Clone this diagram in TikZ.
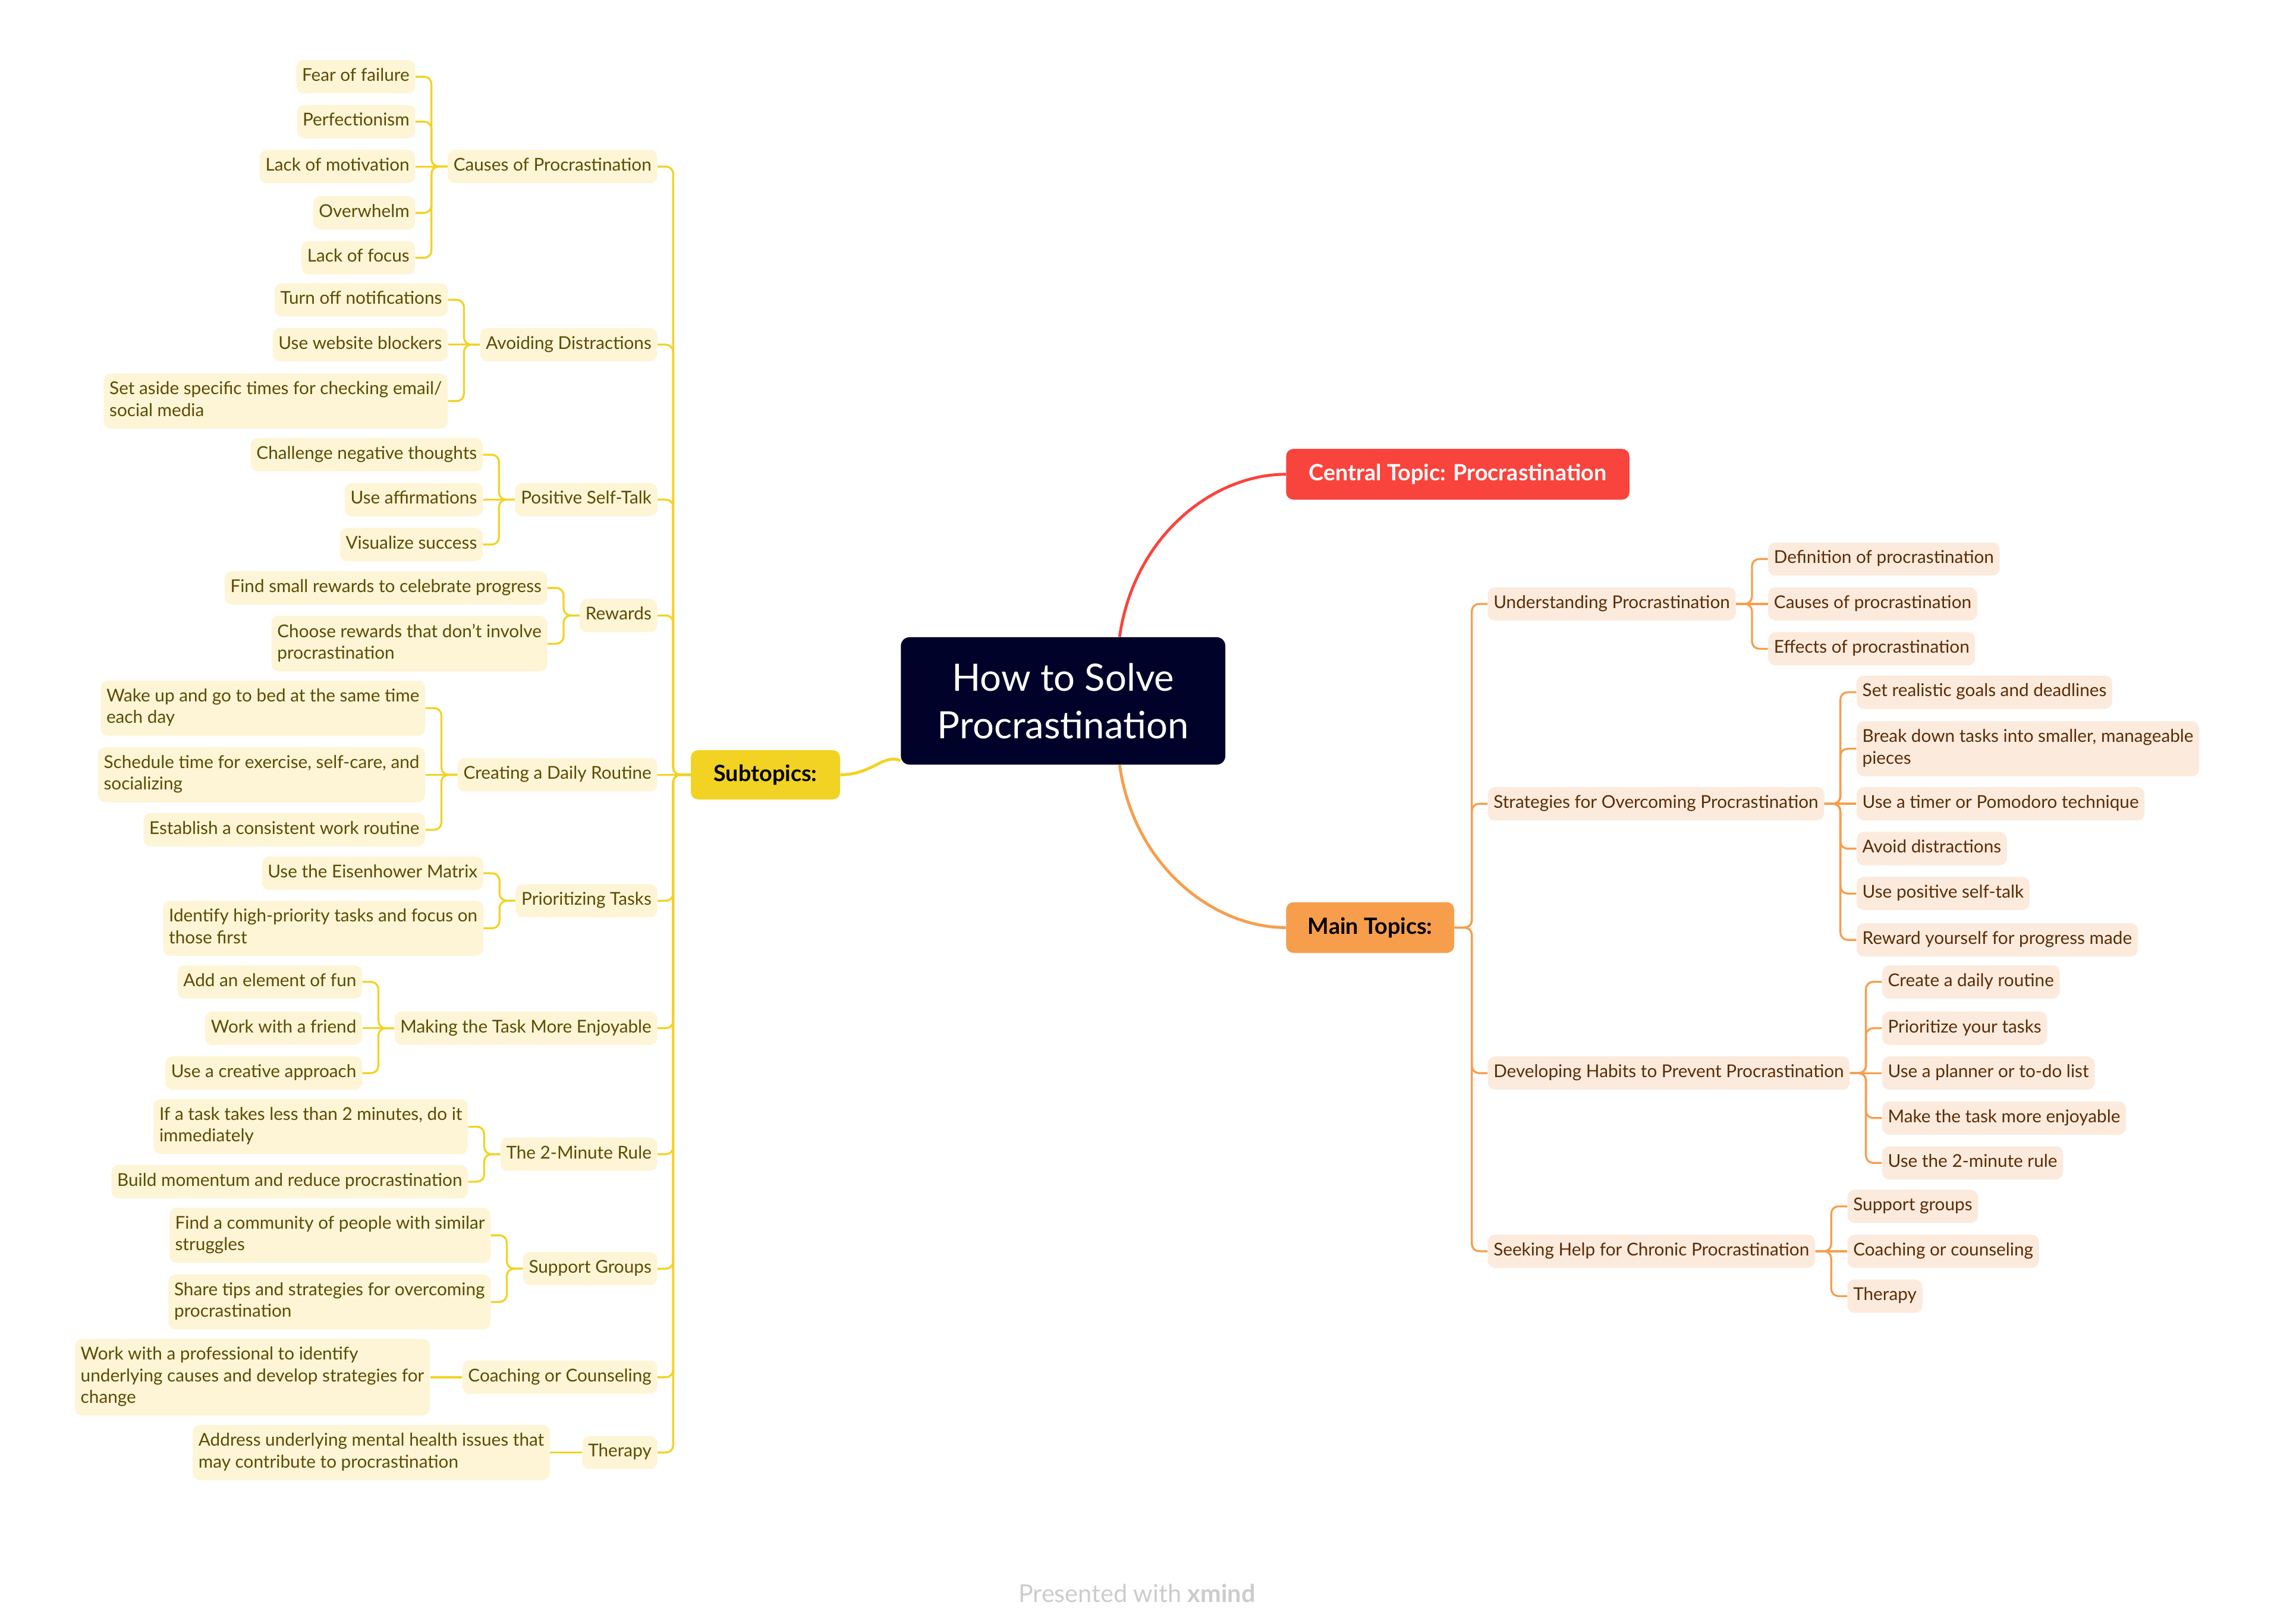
\documentclass[tikz,border=0pt]{standalone}
\usepackage{fontspec}
\setmainfont{Lato}
\definecolor{navy}{HTML}{000229}
\definecolor{redC}{HTML}{F9443D}
\definecolor{orgC}{HTML}{F79E4C}
\definecolor{ylwC}{HTML}{F2D323}
\definecolor{yfill}{HTML}{FDF5D5}
\definecolor{ytext}{HTML}{5C4B05}
\definecolor{ofill}{HTML}{FCEBDD}
\definecolor{otext}{HTML}{5A2C06}
\definecolor{wmark}{HTML}{CCCCCC}
\newcommand\LeafStrut{\rule[-3pt]{0pt}{12pt}}
\tikzset{
  leafbox/.style={rounded corners=5pt, inner xsep=4pt, inner ysep=5.5pt, align=left,
    font=\fontsize{12.2}{15}\selectfont},
  ybox/.style={leafbox, fill=yfill, text=ytext},
  obox/.style={leafbox, fill=ofill, text=otext},
  yline/.style={draw=ylwC, line width=1.35pt, rounded corners=5pt},
  oline/.style={draw=orgC, line width=1.35pt, rounded corners=5pt},
  topbox/.style={rounded corners=5pt, inner sep=0pt, font=\fontsize{15.5}{18}\selectfont\bfseries},
}
% child at a different height than its parent
\newcommand\LeftKid[4]{%
  \path (#2.west) ++(-22,0) coordinate (#1-a);
  \node[ybox,anchor=east] (#1) at (#1-a |- 0,#3) {\LeafStrut#4\LeafStrut};
  \draw[yline] (#2.west) -- ++(-11,0) |- (#1.east);}
% child level with its parent
\newcommand\LeftKidS[3]{%
  \node[ybox,anchor=east] (#1) at ([xshift=-22pt]#2.west) {\LeafStrut#3\LeafStrut};
  \draw[yline] (#2.west) -- (#1.east);}
\newcommand\RightKid[4]{%
  \path (#2.east) ++(22,0) coordinate (#1-a);
  \node[obox,anchor=west] (#1) at (#1-a |- 0,#3) {\LeafStrut#4\LeafStrut};
  \draw[oline] (#2.east) -- ++(11,0) |- (#1.west);}
\newcommand\RightKidS[3]{%
  \node[obox,anchor=west] (#1) at ([xshift=22pt]#2.east) {\LeafStrut#3\LeafStrut};
  \draw[oline] (#2.east) -- (#1.west);}
\newcommand\LeftTop[3]{%
  \node[ybox,anchor=east] (#1) at (454,#2) {\LeafStrut#3\LeafStrut};
  \draw[yline] (sub.west) -- ++(-12,0) |- (#1.east);}
\newcommand\RightTop[3]{%
  \node[obox,anchor=west] (#1) at (1027,#2) {\LeafStrut#3\LeafStrut};
  \draw[oline] (main.east) -- ++(12,0) |- (#1.west);}
\begin{document}
\begin{tikzpicture}[x=1pt,y=-1pt]
\fill[white] (0,0) rectangle (1568,1121);
\useasboundingbox (0,0) rectangle (1568,1121);

% central
\node[fill=navy, rounded corners=6pt, minimum width=224pt, minimum height=88pt, inner sep=0pt,
  text=white, align=center, font=\fontsize{26}{33}\selectfont] (c) at (734,484) {How to Solve\\Procrastination};
\node[topbox, fill=redC, text=white, minimum width=237pt, minimum height=35pt] (ct) at (1006.5,327.5) {Central Topic: Procrastination};
\node[topbox, fill=orgC, text=black, minimum width=116pt, minimum height=35pt] (main) at (946,640.5) {Main Topics:};
\node[topbox, fill=ylwC, text=black, minimum width=103pt, minimum height=34pt] (sub) at (528.5,535) {Subtopics:};

\draw[draw=redC, line width=2pt] ([xshift=39pt]c.north) .. controls +(10,-70) and +(-50,0) .. (ct.west);
\draw[draw=orgC, line width=2pt] ([xshift=39pt]c.south) .. controls +(10,70) and +(-50,0) .. (main.west);
\draw[draw=ylwC, line width=2pt] (sub.east) .. controls +(22,0) and +(-12,-5) .. ([yshift=3pt]c.south west);

% left side
\LeftTop{s1}{115}{Causes of Procrastination}
\LeftKid{k11}{s1}{53}{Fear of failure}
\LeftKid{k12}{s1}{84}{Perfectionism}
\LeftKidS{k13}{s1}{Lack of motivation}
\LeftKid{k14}{s1}{147}{Overwhelm}
\LeftKid{k15}{s1}{178}{Lack of focus}

\LeftTop{s2}{238}{Avoiding Distractions}
\LeftKid{k21}{s2}{207}{Turn off notifications}
\LeftKidS{k22}{s2}{Use website blockers}
\LeftKid{k23}{s2}{277}{Set aside specific times for checking email/\\social media}

\LeftTop{s3}{345}{Positive Self-Talk}
\LeftKid{k31}{s3}{314}{Challenge negative thoughts}
\LeftKidS{k32}{s3}{Use affirmations}
\LeftKid{k33}{s3}{376}{Visualize success}

\LeftTop{s4}{425}{Rewards}
\LeftKid{k41}{s4}{406}{Find small rewards to celebrate progress}
\LeftKid{k42}{s4}{444.5}{Choose rewards that don't involve\\procrastination}

\node[ybox,anchor=east] (s5) at (454,535) {\LeafStrut Creating a Daily Routine\LeafStrut};
\draw[yline] (sub.west) -- (s5.east);
\LeftKid{k51}{s5}{489}{Wake up and go to bed at the same time\\each day}
\LeftKidS{k52}{s5}{Schedule time for exercise, self-care, and\\socializing}
\LeftKid{k53}{s5}{573}{Establish a consistent work routine}

\LeftTop{s6}{622}{Prioritizing Tasks}
\LeftKid{k61}{s6}{603}{Use the Eisenhower Matrix}
\LeftKid{k62}{s6}{641}{Identify high-priority tasks and focus on\\those first}

\LeftTop{s7}{710}{Making the Task More Enjoyable}
\LeftKid{k71}{s7}{678}{Add an element of fun}
\LeftKidS{k72}{s7}{Work with a friend}
\LeftKid{k73}{s7}{741}{Use a creative approach}

\LeftTop{s8}{797}{The 2-Minute Rule}
\LeftKid{k81}{s8}{778}{If a task takes less than 2 minutes, do it\\immediately}
\LeftKid{k82}{s8}{816}{Build momentum and reduce procrastination}

\LeftTop{s9}{876}{Support Groups}
\LeftKid{k91}{s9}{853}{Find a community of people with similar\\struggles}
\LeftKid{k92}{s9}{899}{Share tips and strategies for overcoming\\procrastination}

\LeftTop{s10}{951}{Coaching or Counseling}
\LeftKidS{k101}{s10}{Work with a professional to identify\\underlying causes and develop strategies for\\change}

\LeftTop{s11}{1003}{Therapy}
\LeftKidS{k111}{s11}{Address underlying mental health issues that\\may contribute to procrastination}

% right side
\RightTop{m1}{417}{Understanding Procrastination}
\RightKid{r11}{m1}{386}{Definition of procrastination}
\RightKidS{r12}{m1}{Causes of procrastination}
\RightKid{r13}{m1}{448}{Effects of procrastination}

\RightTop{m2}{555}{Strategies for Overcoming Procrastination}
\RightKid{r21}{m2}{478}{Set realistic goals and deadlines}
\RightKid{r22}{m2}{517}{Break down tasks into smaller, manageable\\pieces}
\RightKidS{r23}{m2}{Use a timer or Pomodoro technique}
\RightKid{r24}{m2}{586}{Avoid distractions}
\RightKid{r25}{m2}{617}{Use positive self-talk}
\RightKid{r26}{m2}{649}{Reward yourself for progress made}

\RightTop{m3}{741}{Developing Habits to Prevent Procrastination}
\RightKid{r31}{m3}{678}{Create a daily routine}
\RightKid{r32}{m3}{710}{Prioritize your tasks}
\RightKidS{r33}{m3}{Use a planner or to-do list}
\RightKid{r34}{m3}{772}{Make the task more enjoyable}
\RightKid{r35}{m3}{803}{Use the 2-minute rule}

\RightTop{m4}{864}{Seeking Help for Chronic Procrastination}
\RightKid{r41}{m4}{833}{Support groups}
\RightKidS{r42}{m4}{Coaching or counseling}
\RightKid{r43}{m4}{895}{Therapy}

\node[text=wmark, font=\fontsize{17}{19}\selectfont] (wm) at (785,1100) {Presented with \textbf{xmind}};
\end{tikzpicture}
\end{document}
